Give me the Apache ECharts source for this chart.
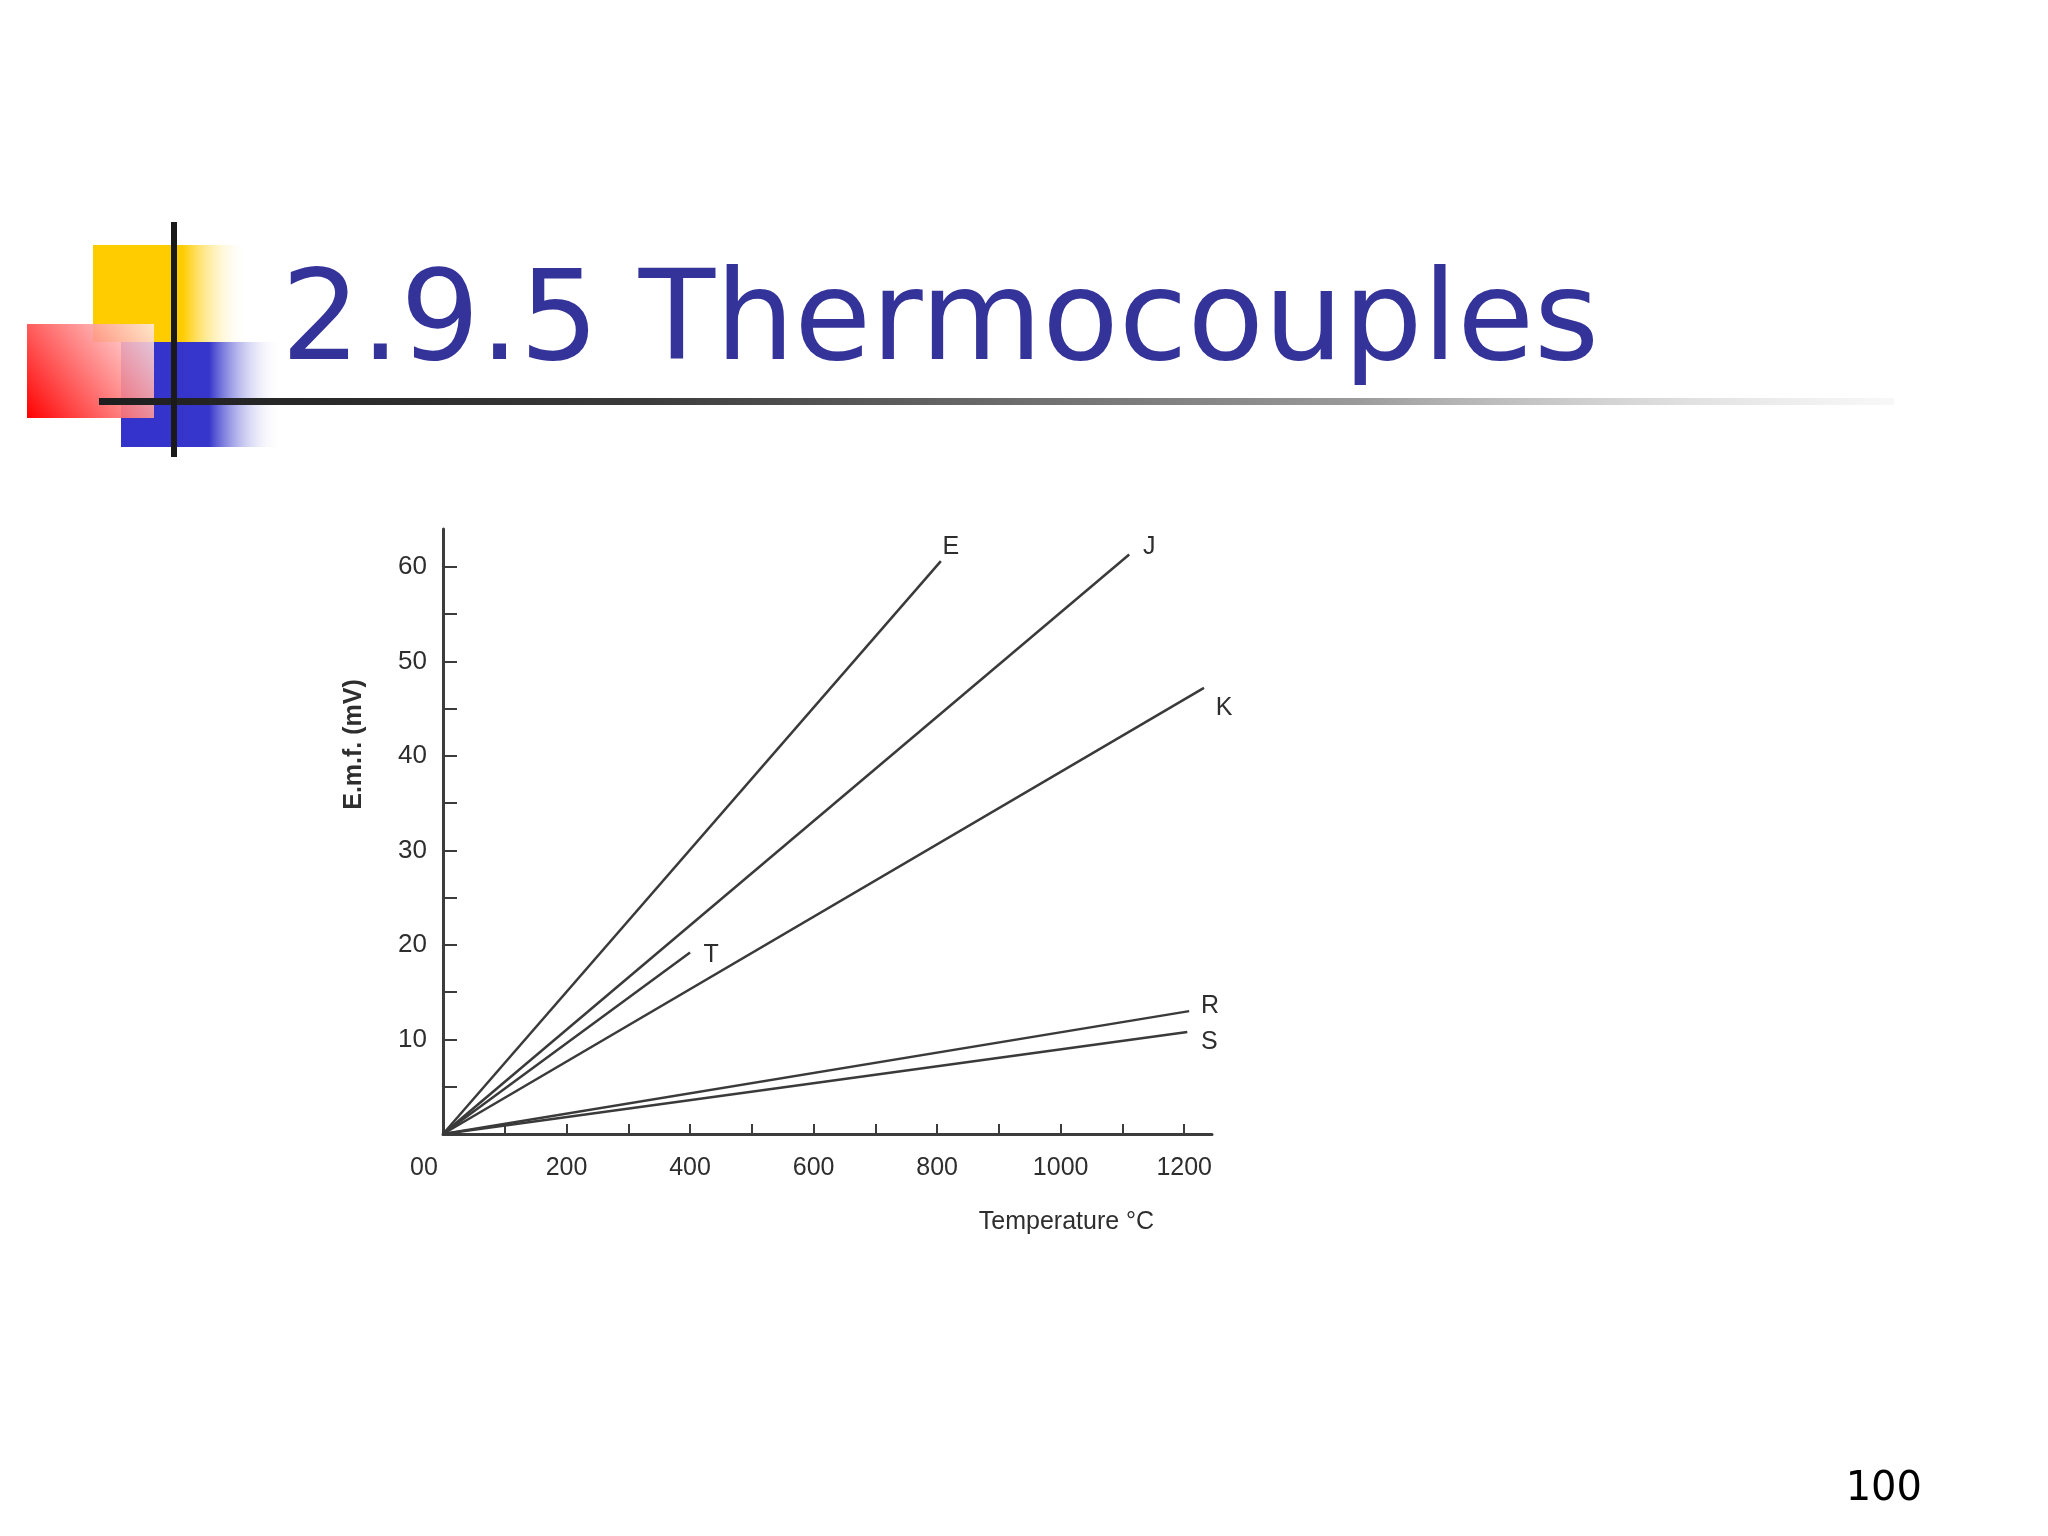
<!DOCTYPE html>
<html>
<head>
<meta charset="utf-8">
<title>2.9.5 Thermocouples</title>
<script src="https://cdn.jsdelivr.net/npm/echarts@6/dist/echarts.min.js"></script>
<style>
    html, body { margin: 0; padding: 0; background: #fff; }
    #chart { width: 2048px; height: 1536px; }
</style>
</head>
<body>
<div id="chart"></div>
<script>
// thermocouple curves, temperature (°C) vs e.m.f. (mV)
const tempE = [0, 806];
const emfE = [0, 60.6];
const tempJ = [0, 1111];
const emfJ = [0, 61.3];
const tempK = [0, 1232];
const emfK = [0, 47.2];
const tempT = [0, 400];
const emfT = [0, 19.2];
const tempR = [0, 1208];
const emfR = [0, 13.0];
const tempS = [0, 1205];
const emfS = [0, 10.8];

const xTicks = [100, 200, 300, 400, 500, 600, 700, 800, 900, 1000, 1100, 1200];
const xLabels = [0, 200, 400, 600, 800, 1000, 1200];
const yTicks = [5, 10, 15, 20, 25, 30, 35, 40, 45, 50, 55, 60];
const yLabels = [10, 20, 30, 40, 50, 60];

const ink = '#2e2e2e';
const font = 'Liberation Sans';

function pairs(xs, ys) {
    return xs.map(function (x, i) { return [x, ys[i]]; });
}

// name label sits at the end of each line
function curve(name, xs, ys, off) {
    let data = pairs(xs, ys);
    let last = data.length - 1;
    data[last] = {
        value: data[last],
        label: {
            show: true,
            position: 'inside',
            offset: off,
            formatter: name,
            color: ink,
            fontFamily: font,
            fontSize: 25
        }
    };
    return {
        name: name,
        type: 'line',
        data: data,
        symbol: 'circle',
        symbolSize: 0,
        showSymbol: true,
        silent: true,
        lineStyle: { color: '#3a3a3a', width: 2.5 },
        itemStyle: { color: '#3a3a3a' }
    };
}

let myChart = echarts.init(document.getElementById('chart'));
let option = {
    backgroundColor: '#ffffff',
    animation: false,
    grid: { left: 443, right: 836, top: 529, bottom: 402 },
    xAxis: {
        type: 'value',
        min: 0,
        max: 1245,
        name: 'Temperature °C',
        nameLocation: 'middle',
        nameGap: 76,
        nameTextStyle: { color: ink, fontFamily: font, fontSize: 25, padding: [0, 0, 0, 478] },
        axisLine: { lineStyle: { color: '#3c3c3c', width: 3 } },
        axisTick: { inside: true, length: 10, lineStyle: { color: '#3c3c3c', width: 2 }, customValues: xTicks },
        axisLabel: {
            customValues: xLabels,
            margin: 22,
            color: ink,
            fontFamily: font,
            fontSize: 25,
            formatter: function (v) { return v === 0 ? '{z|00}' : String(v); },
            rich: { z: { color: ink, fontFamily: font, fontSize: 25, padding: [0, 38, 0, 0] } }
        },
        splitLine: { show: false }
    },
    yAxis: {
        type: 'value',
        min: 0,
        max: 64,
        name: 'E.m.f. (mV)',
        nameLocation: 'middle',
        nameRotate: 90,
        nameGap: 76,
        nameTextStyle: { color: ink, fontFamily: font, fontSize: 25, fontWeight: 'bold', padding: [0, 0, 0, 174] },
        axisLine: { show: true, lineStyle: { color: '#3c3c3c', width: 3 } },
        axisTick: { show: true, inside: true, length: 14, lineStyle: { color: '#3c3c3c', width: 2 }, customValues: yTicks },
        axisLabel: { customValues: yLabels, margin: 16, color: ink, fontFamily: font, fontSize: 26 },
        splitLine: { show: false }
    },
    series: [
        curve('E', tempE, emfE, [10, -14]),
        curve('J', tempJ, emfJ, [20, -7]),
        curve('K', tempK, emfK, [20, 20]),
        curve('T', tempT, emfT, [21, 3]),
        curve('R', tempR, emfR, [21, -5]),
        curve('S', tempS, emfS, [22, 10])
    ],
    graphic: [
        // slide decoration: coloured squares, cross lines
        {
            type: 'rect', z: 1, shape: { x: 93, y: 245, width: 155, height: 97 },
            style: { fill: new echarts.graphic.LinearGradient(0, 0, 1, 0, [
                { offset: 0, color: '#ffcc00' }, { offset: 0.58, color: '#ffcc00' }, { offset: 1, color: 'rgba(255,255,255,0)' }
            ]) }
        },
        {
            type: 'rect', z: 2, shape: { x: 121, y: 342, width: 160, height: 105 },
            style: { fill: new echarts.graphic.LinearGradient(0, 0, 1, 0, [
                { offset: 0, color: '#3333cc' }, { offset: 0.55, color: '#3636cc' }, { offset: 1, color: 'rgba(255,255,255,0)' }
            ]) }
        },
        {
            type: 'rect', z: 3, shape: { x: 27, y: 324, width: 127, height: 94 },
            style: { fill: new echarts.graphic.LinearGradient(0, 1, 1, 0, [
                { offset: 0, color: '#ff0000' }, { offset: 1, color: 'rgba(255,235,235,0.85)' }
            ]) }
        },
        {
            type: 'rect', z: 4, shape: { x: 99, y: 398, width: 1795, height: 7 },
            style: { fill: new echarts.graphic.LinearGradient(0, 0, 1, 0, [
                { offset: 0, color: '#1e1e1e' }, { offset: 0.3, color: '#3a3a3a' },
                { offset: 0.7, color: '#9a9a9a' }, { offset: 1, color: 'rgba(230,230,230,0.3)' }
            ]) }
        },
        {
            type: 'rect', z: 5, shape: { x: 171, y: 222, width: 6, height: 235 },
            style: { fill: '#1a1a1a' }
        },
        {
            type: 'text', z: 6, x: 281, y: 327,
            style: { text: '2.9.5 Thermocouples', fill: '#333399', font: '125px "DejaVu Sans"', verticalAlign: 'middle' }
        },
        {
            type: 'text', z: 6, x: 1922, y: 1490,
            style: { text: '100', fill: '#000000', font: '40px "DejaVu Sans"', align: 'right', verticalAlign: 'middle' }
        }
    ]
};
myChart.setOption(option);
</script>
</body>
</html>
